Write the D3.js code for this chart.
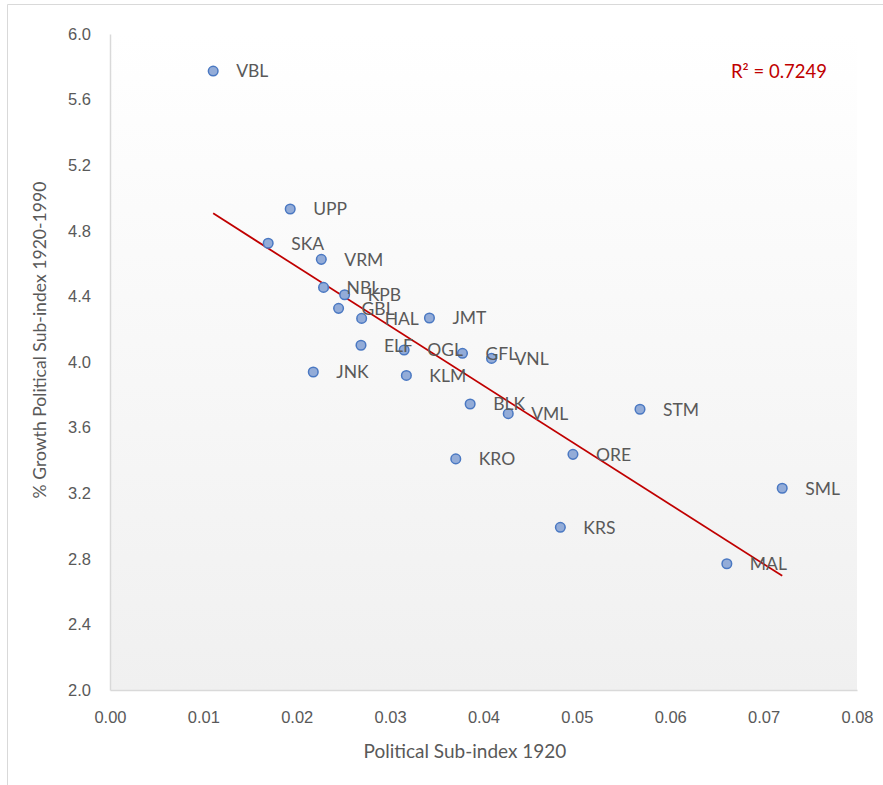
<!DOCTYPE html>
<html>
<head>
<meta charset="utf-8">
<script src="https://cdn.jsdelivr.net/npm/d3@7/dist/d3.min.js"></script>
<style>
  html, body { margin: 0; padding: 0; background: #ffffff; }
  svg { display: block; font-family: Lato, "Open Sans", sans-serif; }
</style>
</head>
<body>
<svg id="chart" width="883" height="785"></svg>
<script>
// Municipality codes with the 1920 political sub-index and its 1920-1990 growth
const codes = ["VBL","UPP","SKA","VRM","NBL","KPB","GBL","HAL","JMT","ELF","OGL","GFL","VNL","JNK","KLM","BLK","VML","STM","KRO","ORE","SML","KRS","MAL"];
const index1920 = [0.01105,0.01930,0.01694,0.02263,0.02287,0.02513,0.02448,0.02695,0.03421,0.02688,0.03150,0.03775,0.04086,0.02177,0.03174,0.03857,0.04265,0.05676,0.03703,0.04958,0.07199,0.04823,0.06606];
const growth = [5.774,4.933,4.724,4.626,4.455,4.410,4.327,4.266,4.268,4.102,4.073,4.053,4.022,3.939,3.918,3.744,3.685,3.712,3.409,3.437,3.230,2.992,2.770];

const xTicks = [0,0.01,0.02,0.03,0.04,0.05,0.06,0.07,0.08];
const yTicks = [2.0,2.4,2.8,3.2,3.6,4.0,4.4,4.8,5.2,5.6,6.0];
const r2Label = "R\u00B2 = 0.7249";
const xTitle = "Political Sub-index 1920";
const yTitle = "% Growth Political Sub-index 1920-1990";

const svg = d3.select("#chart");
const plot = { left: 110, right: 857, top: 34, bottom: 690 };

const x = d3.scaleLinear().domain([0, 0.08]).range([plot.left, plot.right]);
const y = d3.scaleLinear().domain([2.0, 6.0]).range([plot.bottom, plot.top]);

// chart area frame
svg.append("path")
  .attr("d", `M7.5,${785} V4.5 H883`)
  .attr("fill", "none").attr("stroke", "#d9d9d9").attr("stroke-width", 1);

// plot area background: white fading to light grey
const defs = svg.append("defs");
const grad = defs.append("linearGradient").attr("id", "plotBg")
  .attr("x1", 0).attr("y1", 0).attr("x2", 0).attr("y2", 1);
grad.append("stop").attr("offset", "0%").attr("stop-color", "#ffffff");
grad.append("stop").attr("offset", "100%").attr("stop-color", "#f0f0f0");
svg.append("rect")
  .attr("x", plot.left).attr("y", plot.top)
  .attr("width", plot.right - plot.left).attr("height", plot.bottom - plot.top)
  .attr("fill", "url(#plotBg)");

// axes
const xAxis = svg.append("g")
  .attr("transform", `translate(0,${plot.bottom})`)
  .call(d3.axisBottom(x).tickValues(xTicks).tickFormat(d3.format(".2f")).tickSize(0).tickPadding(21));
const yAxis = svg.append("g")
  .attr("transform", `translate(${plot.left},0)`)
  .call(d3.axisLeft(y).tickValues(yTicks).tickFormat(d3.format(".1f")).tickSize(0).tickPadding(19));
[xAxis, yAxis].forEach(g => {
  g.select(".domain").attr("stroke", "#d9d9d9").attr("stroke-width", 1.5);
  g.selectAll("text").attr("fill", "#595959").attr("font-size", 16.5);
});

// axis titles
svg.append("text")
  .attr("x", 465).attr("y", 758)
  .attr("text-anchor", "middle").attr("fill", "#595959").attr("font-size", 19)
  .text(xTitle);
svg.append("text")
  .attr("transform", "translate(46,340) rotate(-90)")
  .attr("text-anchor", "middle").attr("fill", "#595959").attr("font-size", 17.6)
  .text(yTitle);

// linear least-squares trendline over the data range
const n = codes.length;
const mx = d3.mean(index1920), my = d3.mean(growth);
let sxy = 0, sxx = 0;
for (let i = 0; i < n; i++) {
  sxy += (index1920[i] - mx) * (growth[i] - my);
  sxx += (index1920[i] - mx) ** 2;
}
const slope = sxy / sxx, intercept = my - slope * mx;
const [xMin, xMax] = d3.extent(index1920);
svg.append("line")
  .attr("x1", x(xMin)).attr("y1", y(intercept + slope * xMin))
  .attr("x2", x(xMax)).attr("y2", y(intercept + slope * xMax))
  .attr("stroke", "#c00000").attr("stroke-width", 1.75);

// markers
const pts = codes.map((c, i) => ({ code: c, x: index1920[i], y: growth[i] }));
svg.append("g").selectAll("circle").data(pts).join("circle")
  .attr("cx", d => x(d.x)).attr("cy", d => y(d.y)).attr("r", 4.8)
  .attr("fill", "#93acd8").attr("stroke", "#4a78c2").attr("stroke-width", 1.5);

// point labels
svg.append("g").selectAll("text").data(pts).join("text")
  .attr("x", d => x(d.x) + 23).attr("y", d => y(d.y))
  .attr("dy", "0.36em").attr("fill", "#595959").attr("font-size", 17.5)
  .text(d => d.code);

// R-squared annotation
svg.append("text")
  .attr("x", 731).attr("y", 71).attr("dy", "0.36em")
  .attr("fill", "#c00000").attr("font-size", 18.5)
  .text(r2Label);
</script>
</body>
</html>
